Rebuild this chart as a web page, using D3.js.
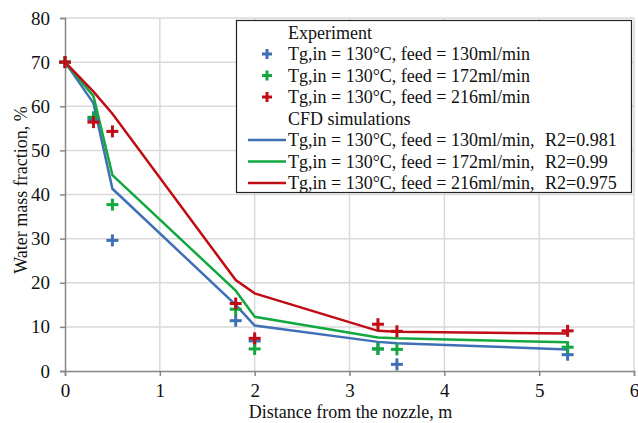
<!DOCTYPE html>
<html>
<head>
<meta charset="utf-8">
<script src="https://cdn.jsdelivr.net/npm/d3@7"></script>
<style>
  body { margin: 0; background: #fff; }
  svg text { font-family: "Liberation Serif", "DejaVu Serif", serif !important; }
</style>
</head>
<body>
<script>
const width = 638;
const height = 423;
const margin = {left: 65, right: 4, top: 18, bottom: 52};
const serif = "'Liberation Serif', 'DejaVu Serif', serif";

// experiment points (distance, m)
const expX = [0, 0.3, 0.5, 1.8, 2, 3.3, 3.5, 5.3];
const exp130 = [70, 57, 29.6, 11.4, 6.8, 5, 1.5, 3.7];
const exp172 = [70, 57.5, 37.7, 14, 5, 5, 4.9, 5.4];
const exp216 = [70, 56.4, 54.3, 15.3, 7.4, 10.6, 9, 9.1];

// CFD simulation lines
const simX = [0, 0.3, 0.5, 1.8, 2, 3.3, 3.5, 5.3];
const sim130 = [70, 60.7, 41.3, 15, 10.3, 6.6, 6.3, 4.9];
const sim172 = [70, 62.3, 44.4, 18.2, 12.3, 7.6, 7.4, 6.5];
const sim216 = [70, 63.3, 58.3, 20.6, 17.6, 9.1, 8.9, 8.5];

const colors = ["#3f6fb4", "#12a73f", "#c00c14"];
const expNames = [
  "Tg,in = 130°C, feed = 130ml/min",
  "Tg,in = 130°C, feed = 172ml/min",
  "Tg,in = 130°C, feed = 216ml/min"
];
const simNames = [
  "Tg,in = 130°C, feed = 130ml/min,",
  "Tg,in = 130°C, feed = 172ml/min,",
  "Tg,in = 130°C, feed = 216ml/min,"
];
const r2 = ["R2=0.981", "R2=0.99", "R2=0.975"];

const xTicks = [0, 1, 2, 3, 4, 5, 6];
const yTicks = [0, 10, 20, 30, 40, 50, 60, 70, 80];

const svg = d3.select("body").append("svg")
  .attr("width", width).attr("height", height)
  .style("font-family", serif);

const x = d3.scaleLinear().domain([0, 6]).range([margin.left, width - margin.right]);
const y = d3.scaleLinear().domain([0, 80]).range([height - margin.bottom, margin.top]);

// grid
svg.append("g").selectAll("line").data(xTicks.slice(1)).enter().append("line")
  .attr("x1", d => x(d)).attr("x2", d => x(d))
  .attr("y1", y(0)).attr("y2", y(80))
  .attr("stroke", "#d9d9d9").attr("stroke-width", 1.5);
svg.append("g").selectAll("line").data(yTicks.slice(1)).enter().append("line")
  .attr("x1", x(0)).attr("x2", x(6))
  .attr("y1", d => y(d)).attr("y2", d => y(d))
  .attr("stroke", "#d9d9d9").attr("stroke-width", 1.5);

// axes
const xAxis = svg.append("g")
  .attr("transform", "translate(0," + y(0) + ")")
  .call(d3.axisBottom(x).tickValues(xTicks).tickSize(5).tickPadding(8).tickFormat(d3.format("d")));
const yAxis = svg.append("g")
  .attr("transform", "translate(" + x(0) + ",0)")
  .call(d3.axisLeft(y).tickValues(yTicks).tickSize(5).tickPadding(10).tickFormat(d3.format("d")));
[xAxis, yAxis].forEach(a => {
  a.attr("font-family", null).attr("font-size", null);
  a.select(".domain").attr("stroke", "#868686").attr("stroke-width", 1.5);
  a.selectAll(".tick line").attr("stroke", "#868686").attr("stroke-width", 1.5);
  a.selectAll(".tick text").attr("fill", "#111").style("font-size", "19px");
});

// simulation lines
const line = d3.line().x((d, i) => x(simX[i])).y(d => y(d));
[sim130, sim172, sim216].forEach((s, k) => {
  svg.append("path").datum(s)
    .attr("d", line)
    .attr("fill", "none")
    .attr("stroke", colors[k])
    .attr("stroke-width", 2.5);
});

// experiment crosses
const cross = (g, cx, cy, c, r, w) => {
  g.append("line").attr("x1", cx - r).attr("x2", cx + r).attr("y1", cy).attr("y2", cy)
    .attr("stroke", c).attr("stroke-width", w);
  g.append("line").attr("x1", cx).attr("x2", cx).attr("y1", cy - r).attr("y2", cy + r)
    .attr("stroke", c).attr("stroke-width", w);
};
[exp130, exp172, exp216].forEach((s, k) => {
  const g = svg.append("g");
  s.forEach((v, i) => cross(g, x(expX[i]), y(v), colors[k], 6, 3));
});

// legend
const lg = svg.append("g");
lg.append("rect")
  .attr("x", 236.5).attr("y", 20.5).attr("width", 395).attr("height", 172)
  .attr("fill", "#fff").attr("stroke", "#222").attr("stroke-width", 1.2);
const rowY = i => 32.5 + i * 21.5;
const txtX = 288;
const addText = (t, tx, i) => lg.append("text").attr("x", tx).attr("y", rowY(i))
  .attr("dy", "0.35em").style("font-size", "18px")
  .attr("fill", "#111").text(t);
addText("Experiment", txtX, 0);
expNames.forEach((n, k) => {
  cross(lg, 267, rowY(k + 1), colors[k], 5, 3);
  addText(n, txtX, k + 1);
});
addText("CFD simulations", txtX, 4);
simNames.forEach((n, k) => {
  lg.append("line").attr("x1", 248).attr("x2", 286)
    .attr("y1", rowY(k + 5)).attr("y2", rowY(k + 5))
    .attr("stroke", colors[k]).attr("stroke-width", 2.5);
  addText(n, txtX, k + 5);
  addText(r2[k], 545, k + 5);
});

// axis titles
svg.append("text")
  .attr("x", (x(0) + x(6)) / 2 + 1).attr("y", 418)
  .attr("text-anchor", "middle").style("font-size", "18px").attr("fill", "#111")
  .text("Distance from the nozzle, m");
svg.append("text")
  .attr("transform", "translate(27," + 190 + ") rotate(-90)")
  .attr("text-anchor", "middle").style("font-size", "18px").attr("fill", "#111")
  .text("Water mass fraction, %");
</script>
</body>
</html>
